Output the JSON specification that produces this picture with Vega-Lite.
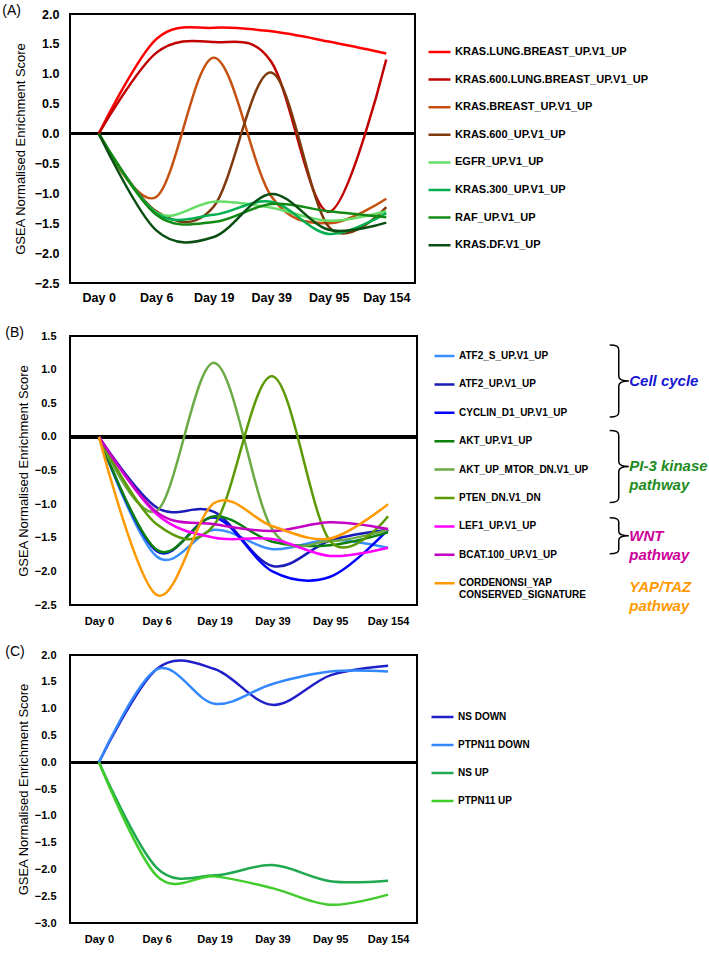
{
  "$schema": "https://vega.github.io/schema/vega-lite/v6.json",
  "padding": {"left": 1, "top": 3, "right": 0, "bottom": 0},
  "background": "white",
  "spacing": 17,
  "config": {
    "font": "Liberation Sans",
    "view": {"stroke": "black", "strokeWidth": 2},
    "axis": {"gridColor": "#D9D9D9", "gridWidth": 1, "ticks": false, "domain": false, "labelFontWeight": "bold", "labelColor": "black", "titleFontWeight": "normal", "titleColor": "black", "titleFontSize": 13, "labelFont": "Liberation Sans", "titleFont": "Liberation Sans", "labelOverlap": false},
    "legend": {"title": null, "orient": "none", "symbolType": "stroke", "symbolStrokeWidth": 2.5, "labelFontWeight": "bold", "labelColor": "black", "clipHeight": 16, "labelOffset": 3, "padding": 0, "labelLimit": 300},
    "title": {"anchor": "start", "frame": "bounds", "fontSize": 14, "fontWeight": "normal", "color": "black", "offset": 0}
  },
  "datasets": {
    "A": [
      {"series": "KRAS.LUNG.BREAST_UP.V1_UP", "day": "Day 0", "score": 0},
      {"series": "KRAS.LUNG.BREAST_UP.V1_UP", "day": "Day 6", "score": 1.58},
      {"series": "KRAS.LUNG.BREAST_UP.V1_UP", "day": "Day 19", "score": 1.77},
      {"series": "KRAS.LUNG.BREAST_UP.V1_UP", "day": "Day 39", "score": 1.71},
      {"series": "KRAS.LUNG.BREAST_UP.V1_UP", "day": "Day 95", "score": 1.54},
      {"series": "KRAS.LUNG.BREAST_UP.V1_UP", "day": "Day 154", "score": 1.34},
      {"series": "KRAS.600.LUNG.BREAST_UP.V1_UP", "day": "Day 0", "score": 0},
      {"series": "KRAS.600.LUNG.BREAST_UP.V1_UP", "day": "Day 6", "score": 1.35},
      {"series": "KRAS.600.LUNG.BREAST_UP.V1_UP", "day": "Day 19", "score": 1.53},
      {"series": "KRAS.600.LUNG.BREAST_UP.V1_UP", "day": "Day 39", "score": 1.2},
      {"series": "KRAS.600.LUNG.BREAST_UP.V1_UP", "day": "Day 95", "score": -1.31},
      {"series": "KRAS.600.LUNG.BREAST_UP.V1_UP", "day": "Day 154", "score": 1.24},
      {"series": "KRAS.BREAST_UP.V1_UP", "day": "Day 0", "score": 0},
      {"series": "KRAS.BREAST_UP.V1_UP", "day": "Day 6", "score": -1.06},
      {"series": "KRAS.BREAST_UP.V1_UP", "day": "Day 19", "score": 1.27},
      {"series": "KRAS.BREAST_UP.V1_UP", "day": "Day 39", "score": -1.05},
      {"series": "KRAS.BREAST_UP.V1_UP", "day": "Day 95", "score": -1.5},
      {"series": "KRAS.BREAST_UP.V1_UP", "day": "Day 154", "score": -1.09},
      {"series": "KRAS.600_UP.V1_UP", "day": "Day 0", "score": 0},
      {"series": "KRAS.600_UP.V1_UP", "day": "Day 6", "score": -1.3},
      {"series": "KRAS.600_UP.V1_UP", "day": "Day 19", "score": -1.22},
      {"series": "KRAS.600_UP.V1_UP", "day": "Day 39", "score": 1.02},
      {"series": "KRAS.600_UP.V1_UP", "day": "Day 95", "score": -1.56},
      {"series": "KRAS.600_UP.V1_UP", "day": "Day 154", "score": -1.23},
      {"series": "EGFR_UP.V1_UP", "day": "Day 0", "score": 0},
      {"series": "EGFR_UP.V1_UP", "day": "Day 6", "score": -1.32},
      {"series": "EGFR_UP.V1_UP", "day": "Day 19", "score": -1.14},
      {"series": "EGFR_UP.V1_UP", "day": "Day 39", "score": -1.24},
      {"series": "EGFR_UP.V1_UP", "day": "Day 95", "score": -1.46},
      {"series": "EGFR_UP.V1_UP", "day": "Day 154", "score": -1.3},
      {"series": "KRAS.300_UP.V1_UP", "day": "Day 0", "score": 0},
      {"series": "KRAS.300_UP.V1_UP", "day": "Day 6", "score": -1.33},
      {"series": "KRAS.300_UP.V1_UP", "day": "Day 19", "score": -1.36},
      {"series": "KRAS.300_UP.V1_UP", "day": "Day 39", "score": -1.14},
      {"series": "KRAS.300_UP.V1_UP", "day": "Day 95", "score": -1.68},
      {"series": "KRAS.300_UP.V1_UP", "day": "Day 154", "score": -1.33},
      {"series": "RAF_UP.V1_UP", "day": "Day 0", "score": 0},
      {"series": "RAF_UP.V1_UP", "day": "Day 6", "score": -1.36},
      {"series": "RAF_UP.V1_UP", "day": "Day 19", "score": -1.48},
      {"series": "RAF_UP.V1_UP", "day": "Day 39", "score": -1.18},
      {"series": "RAF_UP.V1_UP", "day": "Day 95", "score": -1.3},
      {"series": "RAF_UP.V1_UP", "day": "Day 154", "score": -1.4},
      {"series": "KRAS.DF.V1_UP", "day": "Day 0", "score": 0},
      {"series": "KRAS.DF.V1_UP", "day": "Day 6", "score": -1.62},
      {"series": "KRAS.DF.V1_UP", "day": "Day 19", "score": -1.73},
      {"series": "KRAS.DF.V1_UP", "day": "Day 39", "score": -1.01},
      {"series": "KRAS.DF.V1_UP", "day": "Day 95", "score": -1.61},
      {"series": "KRAS.DF.V1_UP", "day": "Day 154", "score": -1.49}
    ],
    "B": [
      {"series": "ATF2_S_UP.V1_UP", "day": "Day 0", "score": 0},
      {"series": "ATF2_S_UP.V1_UP", "day": "Day 6", "score": -1.78},
      {"series": "ATF2_S_UP.V1_UP", "day": "Day 19", "score": -1.38},
      {"series": "ATF2_S_UP.V1_UP", "day": "Day 39", "score": -1.67},
      {"series": "ATF2_S_UP.V1_UP", "day": "Day 95", "score": -1.53},
      {"series": "ATF2_S_UP.V1_UP", "day": "Day 154", "score": -1.65},
      {"series": "ATF2_UP.V1_UP", "day": "Day 0", "score": 0},
      {"series": "ATF2_UP.V1_UP", "day": "Day 6", "score": -1.05},
      {"series": "ATF2_UP.V1_UP", "day": "Day 19", "score": -1.12},
      {"series": "ATF2_UP.V1_UP", "day": "Day 39", "score": -1.92},
      {"series": "ATF2_UP.V1_UP", "day": "Day 95", "score": -1.54},
      {"series": "ATF2_UP.V1_UP", "day": "Day 154", "score": -1.38},
      {"series": "CYCLIN_D1_UP.V1_UP", "day": "Day 0", "score": 0},
      {"series": "CYCLIN_D1_UP.V1_UP", "day": "Day 6", "score": -1.7},
      {"series": "CYCLIN_D1_UP.V1_UP", "day": "Day 19", "score": -1.2},
      {"series": "CYCLIN_D1_UP.V1_UP", "day": "Day 39", "score": -2.0},
      {"series": "CYCLIN_D1_UP.V1_UP", "day": "Day 95", "score": -2.08},
      {"series": "CYCLIN_D1_UP.V1_UP", "day": "Day 154", "score": -1.38},
      {"series": "AKT_UP.V1_UP", "day": "Day 0", "score": 0},
      {"series": "AKT_UP.V1_UP", "day": "Day 6", "score": -1.68},
      {"series": "AKT_UP.V1_UP", "day": "Day 19", "score": -1.18},
      {"series": "AKT_UP.V1_UP", "day": "Day 39", "score": -1.56},
      {"series": "AKT_UP.V1_UP", "day": "Day 95", "score": -1.61},
      {"series": "AKT_UP.V1_UP", "day": "Day 154", "score": -1.42},
      {"series": "AKT_UP_MTOR_DN.V1_UP", "day": "Day 0", "score": 0},
      {"series": "AKT_UP_MTOR_DN.V1_UP", "day": "Day 6", "score": -1.1},
      {"series": "AKT_UP_MTOR_DN.V1_UP", "day": "Day 19", "score": 1.1},
      {"series": "AKT_UP_MTOR_DN.V1_UP", "day": "Day 39", "score": -1.38},
      {"series": "AKT_UP_MTOR_DN.V1_UP", "day": "Day 95", "score": -1.55},
      {"series": "AKT_UP_MTOR_DN.V1_UP", "day": "Day 154", "score": -1.38},
      {"series": "PTEN_DN.V1_DN", "day": "Day 0", "score": 0},
      {"series": "PTEN_DN.V1_DN", "day": "Day 6", "score": -1.3},
      {"series": "PTEN_DN.V1_DN", "day": "Day 19", "score": -1.3},
      {"series": "PTEN_DN.V1_DN", "day": "Day 39", "score": 0.9},
      {"series": "PTEN_DN.V1_DN", "day": "Day 95", "score": -1.55},
      {"series": "PTEN_DN.V1_DN", "day": "Day 154", "score": -1.18},
      {"series": "LEF1_UP.V1_UP", "day": "Day 0", "score": 0},
      {"series": "LEF1_UP.V1_UP", "day": "Day 6", "score": -1.15},
      {"series": "LEF1_UP.V1_UP", "day": "Day 19", "score": -1.5},
      {"series": "LEF1_UP.V1_UP", "day": "Day 39", "score": -1.52},
      {"series": "LEF1_UP.V1_UP", "day": "Day 95", "score": -1.77},
      {"series": "LEF1_UP.V1_UP", "day": "Day 154", "score": -1.65},
      {"series": "BCAT.100_UP.V1_UP", "day": "Day 0", "score": 0},
      {"series": "BCAT.100_UP.V1_UP", "day": "Day 6", "score": -1.12},
      {"series": "BCAT.100_UP.V1_UP", "day": "Day 19", "score": -1.3},
      {"series": "BCAT.100_UP.V1_UP", "day": "Day 39", "score": -1.4},
      {"series": "BCAT.100_UP.V1_UP", "day": "Day 95", "score": -1.27},
      {"series": "BCAT.100_UP.V1_UP", "day": "Day 154", "score": -1.37},
      {"series": "CORDENONSI_YAP CONSERVED_SIGNATURE", "day": "Day 0", "score": 0},
      {"series": "CORDENONSI_YAP CONSERVED_SIGNATURE", "day": "Day 6", "score": -2.35},
      {"series": "CORDENONSI_YAP CONSERVED_SIGNATURE", "day": "Day 19", "score": -0.98},
      {"series": "CORDENONSI_YAP CONSERVED_SIGNATURE", "day": "Day 39", "score": -1.33},
      {"series": "CORDENONSI_YAP CONSERVED_SIGNATURE", "day": "Day 95", "score": -1.51},
      {"series": "CORDENONSI_YAP CONSERVED_SIGNATURE", "day": "Day 154", "score": -1.0}
    ],
    "C": [
      {"series": "NS DOWN", "day": "Day 0", "score": 0},
      {"series": "NS DOWN", "day": "Day 6", "score": 1.74},
      {"series": "NS DOWN", "day": "Day 19", "score": 1.74},
      {"series": "NS DOWN", "day": "Day 39", "score": 1.07},
      {"series": "NS DOWN", "day": "Day 95", "score": 1.62},
      {"series": "NS DOWN", "day": "Day 154", "score": 1.8},
      {"series": "PTPN11 DOWN", "day": "Day 0", "score": 0},
      {"series": "PTPN11 DOWN", "day": "Day 6", "score": 1.73},
      {"series": "PTPN11 DOWN", "day": "Day 19", "score": 1.09},
      {"series": "PTPN11 DOWN", "day": "Day 39", "score": 1.46},
      {"series": "PTPN11 DOWN", "day": "Day 95", "score": 1.69},
      {"series": "PTPN11 DOWN", "day": "Day 154", "score": 1.69},
      {"series": "NS UP", "day": "Day 0", "score": 0},
      {"series": "NS UP", "day": "Day 6", "score": -1.97},
      {"series": "NS UP", "day": "Day 19", "score": -2.11},
      {"series": "NS UP", "day": "Day 39", "score": -1.92},
      {"series": "NS UP", "day": "Day 95", "score": -2.22},
      {"series": "NS UP", "day": "Day 154", "score": -2.21},
      {"series": "PTPN11 UP", "day": "Day 0", "score": 0},
      {"series": "PTPN11 UP", "day": "Day 6", "score": -2.12},
      {"series": "PTPN11 UP", "day": "Day 19", "score": -2.13},
      {"series": "PTPN11 UP", "day": "Day 39", "score": -2.35},
      {"series": "PTPN11 UP", "day": "Day 95", "score": -2.66},
      {"series": "PTPN11 UP", "day": "Day 154", "score": -2.47}
    ],
    "groups": [
      {"group": "Cell cycle", "label": "Cell cycle", "row": 0.95, "brace": "tall"},
      {"group": "PI-3 kinase pathway", "label": "PI-3 kinase\npathway", "row": 3.96, "brace": "tall"},
      {"group": "WNT pathway", "label": "WNT\npathway", "row": 6.4, "brace": "short"},
      {"group": "YAP/TAZ pathway", "label": "YAP/TAZ\npathway", "row": 8.2, "brace": "none"}
    ]
  },
  "resolve": {"scale": {"color": "independent", "x": "independent", "y": "independent"}, "legend": {"color": "independent"}},
  "vconcat": [
    {
      "spacing": 20,
      "resolve": {"scale": {"color": "independent", "x": "independent", "y": "independent"}, "legend": {"color": "independent"}},
      "vconcat": [
        {
          "title": {"text": "(A)", "dx": -12, "dy": 14},
          "width": 345,
          "height": 269,
          "data": {"name": "A"},
          "layer": [
            {
              "mark": {"type": "rule", "color": "black", "strokeWidth": 2.5},
              "encoding": {"y": {"datum": 0, "type": "quantitative"}}
            },
            {
              "mark": {"type": "line", "interpolate": "cardinal", "strokeWidth": 2.5},
              "encoding": {
                "x": {"field": "day", "type": "ordinal", "sort": ["Day 0", "Day 6", "Day 19", "Day 39", "Day 95", "Day 154"], "scale": {"type": "point", "padding": 0.5}, "axis": {"title": null, "labelAngle": 0, "labelFontSize": 12.5, "labelPadding": 8, "grid": false, "labelOverlap": false}},
                "y": {"field": "score", "type": "quantitative", "scale": {"domain": [-2.5, 2.0], "nice": false, "zero": false}, "axis": {"title": "GSEA Normalised Enrichment Score", "values": [-2.5, -2, -1.5, -1, -0.5, 0, 0.5, 1, 1.5, 2], "tickCount": 20, "format": ".1f", "labelFontSize": 12.5, "labelPadding": 11, "titlePadding": 7, "labelOverlap": false, "labelBound": false, "labelFlush": false}},
                "color": {"field": "series", "type": "nominal",
                  "scale": {"domain": ["KRAS.LUNG.BREAST_UP.V1_UP", "KRAS.600.LUNG.BREAST_UP.V1_UP", "KRAS.BREAST_UP.V1_UP", "KRAS.600_UP.V1_UP", "EGFR_UP.V1_UP", "KRAS.300_UP.V1_UP", "RAF_UP.V1_UP", "KRAS.DF.V1_UP"],
                            "range": ["#FF0000", "#C00000", "#C5500F", "#7E3A0C", "#66DD66", "#00B050", "#138A13", "#0A4F12"]},
                  "legend": {"legendX": 357, "legendY": 30, "symbolSize": 484, "labelFontSize": 11, "rowPadding": 11.6}}
              }
            }
          ]
        },
        {
          "resolve": {"scale": {"color": "independent", "x": "independent", "y": "independent"}, "legend": {"color": "independent"}},
          "bounds": "flush",
          "spacing": 186,
          "hconcat": [
            {
              "title": {"text": "(B)", "dx": -12, "dy": 14},
              "width": 347,
              "height": 269,
              "data": {"name": "B"},
              "layer": [
                {
                  "mark": {"type": "rule", "color": "black", "strokeWidth": 2.5},
                  "encoding": {"y": {"datum": 0, "type": "quantitative"}}
                },
                {
                  "mark": {"type": "line", "interpolate": "cardinal", "strokeWidth": 2.5},
                  "encoding": {
                    "x": {"field": "day", "type": "ordinal", "sort": ["Day 0", "Day 6", "Day 19", "Day 39", "Day 95", "Day 154"], "scale": {"type": "point", "padding": 0.5}, "axis": {"title": null, "labelAngle": 0, "labelFontSize": 11, "labelPadding": 10, "grid": false, "labelOverlap": false}},
                    "y": {"field": "score", "type": "quantitative", "scale": {"domain": [-2.5, 1.5], "nice": false, "zero": false}, "axis": {"title": "GSEA Normalised Enrichment Score", "values": [-2.5, -2, -1.5, -1, -0.5, 0, 0.5, 1, 1.5], "tickCount": 20, "format": ".1f", "labelFontSize": 11, "labelPadding": 14, "titlePadding": 4, "labelOverlap": false, "labelBound": false, "labelFlush": false}},
                    "color": {"field": "series", "type": "nominal",
                      "scale": {"domain": ["ATF2_S_UP.V1_UP", "ATF2_UP.V1_UP", "CYCLIN_D1_UP.V1_UP", "AKT_UP.V1_UP", "AKT_UP_MTOR_DN.V1_UP", "PTEN_DN.V1_DN", "LEF1_UP.V1_UP", "BCAT.100_UP.V1_UP", "CORDENONSI_YAP CONSERVED_SIGNATURE"],
                                "range": ["#3A8EFF", "#1C1CB8", "#0000FF", "#0B800B", "#6BAA45", "#5C9A05", "#FF00FF", "#C400C4", "#FF9900"]},
                      "legend": {"legendX": 363, "legendY": 12, "symbolSize": 400, "labelFontSize": 10, "rowPadding": 12.4,
                        "labelExpr": "datum.label == 'CORDENONSI_YAP CONSERVED_SIGNATURE' ? ['CORDENONSI_YAP', 'CONSERVED_SIGNATURE'] : datum.label"}}
                  }
                }
              ]
            },
            {
              "width": 105,
              "height": 269,
              "view": {"stroke": null},
              "data": {"name": "groups"},
              "encoding": {
                "y": {"field": "row", "type": "quantitative", "scale": {"domain": [-0.634, 8.838], "reverse": true, "nice": false, "zero": false}, "axis": null}
              },
              "layer": [
                {
                  "transform": [{"filter": "datum.brace == 'tall'"}],
                  "mark": {"type": "point", "shape": "M -0.25 -1 C -0.06 -1 0 -0.96 0 -0.86 L 0 -0.14 C 0 -0.04 0.08 0 0.28 0 C 0.08 0 0 0.04 0 0.14 L 0 0.86 C 0 0.96 -0.06 1 -0.25 1", "size": 5184, "filled": false, "color": "black", "strokeWidth": 1.5, "opacity": 1},
                  "encoding": {"x": {"datum": 0.15, "type": "quantitative", "scale": {"domain": [0, 1], "nice": false, "zero": false}, "axis": null}}
                },
                {
                  "transform": [{"filter": "datum.brace == 'short'"}],
                  "mark": {"type": "point", "shape": "M -0.5 -1 C -0.12 -1 0 -0.93 0 -0.75 L 0 -0.25 C 0 -0.07 0.15 0 0.56 0 C 0.15 0 0 0.07 0 0.25 L 0 0.75 C 0 0.93 -0.12 1 -0.5 1", "size": 1296, "filled": false, "color": "black", "strokeWidth": 1.5, "opacity": 1},
                  "encoding": {"x": {"datum": 0.15, "type": "quantitative"}}
                },
                {
                  "mark": {"type": "text", "align": "left", "baseline": "middle", "fontSize": 15, "fontWeight": "bold", "fontStyle": "italic", "lineBreak": "\n", "lineHeight": 19},
                  "encoding": {
                    "x": {"datum": 0.25, "type": "quantitative"},
                    "text": {"field": "label"},
                    "color": {"field": "group", "type": "nominal", "scale": {"domain": ["Cell cycle", "PI-3 kinase pathway", "WNT pathway", "YAP/TAZ pathway"], "range": ["#1414D2", "#1E8C1E", "#CC0099", "#FF9900"]}, "legend": null}
                  }
                }
              ]
            }
          ]
        }
      ]
    },
    {
      "title": {"text": "(C)", "dx": -12, "dy": 14},
      "width": 347,
      "height": 268,
      "data": {"name": "C"},
      "layer": [
        {
          "mark": {"type": "rule", "color": "black", "strokeWidth": 2.5},
          "encoding": {"y": {"datum": 0, "type": "quantitative"}}
        },
        {
          "mark": {"type": "line", "interpolate": "cardinal", "strokeWidth": 2.5},
          "encoding": {
            "x": {"field": "day", "type": "ordinal", "sort": ["Day 0", "Day 6", "Day 19", "Day 39", "Day 95", "Day 154"], "scale": {"type": "point", "padding": 0.5}, "axis": {"title": null, "labelAngle": 0, "labelFontSize": 11, "labelPadding": 10, "grid": false, "labelOverlap": false}},
            "y": {"field": "score", "type": "quantitative", "scale": {"domain": [-3.0, 2.0], "nice": false, "zero": false}, "axis": {"title": "GSEA Normalised Enrichment Score", "values": [-3, -2.5, -2, -1.5, -1, -0.5, 0, 0.5, 1, 1.5, 2], "tickCount": 20, "format": ".1f", "labelFontSize": 11, "labelPadding": 14, "titlePadding": 4, "labelOverlap": false, "labelBound": false, "labelFlush": false}},
            "color": {"field": "series", "type": "nominal",
              "scale": {"domain": ["NS DOWN", "PTPN11 DOWN", "NS UP", "PTPN11 UP"],
                        "range": ["#2020C8", "#3388FF", "#1FA84F", "#40CC2A"]},
              "legend": {"legendX": 360, "legendY": 54, "symbolSize": 484, "labelFontSize": 10, "rowPadding": 12}}
          }
        }
      ]
    }
  ]
}
